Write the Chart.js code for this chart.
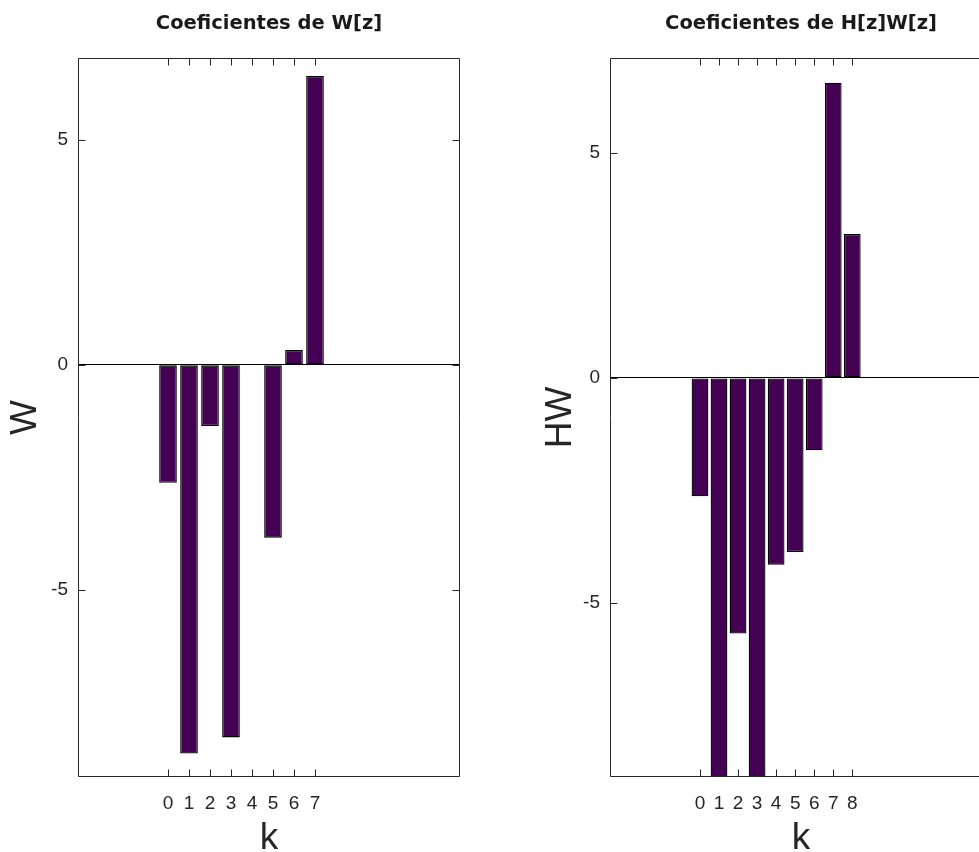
<!DOCTYPE html>
<html>
<head>
<meta charset="utf-8">
<script src="https://cdn.jsdelivr.net/npm/chart.js@4/dist/chart.umd.min.js"></script>
<style>
html,body{margin:0;padding:0;background:#fff;overflow:hidden;width:979px;height:852px;position:relative;}
#c1{position:absolute;left:0;top:0;}
#c2{position:absolute;left:490px;top:0;}
</style>
</head>
<body>
<canvas id="c1" width="490" height="852"></canvas>
<canvas id="c2" width="520" height="852"></canvas>
<script>
// ---- data ----
const kW = [0, 1, 2, 3, 4, 5, 6, 7];
const valuesW = [-2.62, -8.64, -1.36, -8.28, 0, -3.84, 0.33, 6.42];
const kHW = [0, 1, 2, 3, 4, 5, 6, 7, 8];
const valuesHW = [-2.63, -9.95, -5.68, -8.96, -4.15, -3.87, -1.61, 6.56, 3.2];
const yTicks = [-5, 0, 5];
const titleW = 'Coeficientes de W[z]';
const titleHW = 'Coeficientes de H[z]W[z]';
const yLabelW = 'W';
const yLabelHW = 'HW';
const xLabel = 'k';

const AXIS = '#262626';
const BAR = '#440154';
const FONT = "'Liberation Sans', Arial, Helvetica, sans-serif";
const TITLE_FONT = "'DejaVu Sans', 'Liberation Sans', sans-serif";

const boxPlugin = {
  id: 'boxTicks',
  afterDraw(chart) {
    const {ctx, chartArea: a} = chart;
    const x = chart.scales.x, y = chart.scales.y;
    ctx.save();
    ctx.strokeStyle = AXIS;
    ctx.lineWidth = 1;
    const L = Math.round(a.left) + 0.5, R = Math.round(a.right) - 0.5;
    const T = Math.round(a.top) + 0.5, B = Math.round(a.bottom) - 0.5;
    ctx.beginPath();
    ctx.rect(L, T, R - L, B - T);
    x.ticks.forEach(t => {
      const p = Math.round(x.getPixelForValue(t.value)) + 0.5;
      ctx.moveTo(p, B); ctx.lineTo(p, B - 7);
      ctx.moveTo(p, T); ctx.lineTo(p, T + 7);
    });
    y.ticks.forEach(t => {
      const p = Math.round(y.getPixelForValue(t.value)) + 0.5;
      ctx.moveTo(L, p); ctx.lineTo(L + 7, p);
      ctx.moveTo(R, p); ctx.lineTo(R - 7, p);
    });
    ctx.stroke();
    ctx.restore();
  }
};

function makeChart(id, ks, vals, title, yLabel, xmin, xmax, ymin, ymax, barPct, yAxisWidth, yTitlePad, padRight) {
  return new Chart(document.getElementById(id), {
    type: 'bar',
    data: {
      datasets: [{
        data: ks.map((k, i) => ({x: k, y: vals[i]})),
        backgroundColor: BAR,
        borderColor: '#000',
        borderWidth: 1.3,
        borderSkipped: false,
        categoryPercentage: 1,
        barPercentage: barPct
      }]
    },
    options: {
      responsive: false,
      animation: false,
      devicePixelRatio: 1,
      layout: {padding: {left: 0, right: padRight, top: 0, bottom: 0}},
      plugins: {
        legend: {display: false},
        tooltip: {enabled: false},
        title: {
          display: true, text: title, fullSize: false, color: '#1a1a1a',
          font: {family: TITLE_FONT, size: 19.5, weight: 'bold', lineHeight: 1.2},
          padding: {top: 12, bottom: 22.6}
        }
      },
      scales: {
        x: {
          type: 'linear', min: xmin, max: xmax, offset: false,
          grid: {display: false, drawTicks: false, offset: false},
          border: {display: false},
          afterBuildTicks: s => { s.ticks = ks.map(v => ({value: v})); },
          afterFit: s => { s.height = 75; },
          ticks: {color: AXIS, font: {family: FONT, size: 19}, padding: 15, maxRotation: 0, autoSkip: false, callback: v => String(v)},
          title: {display: true, text: xLabel, color: AXIS, font: {family: FONT, size: 37, lineHeight: 1}, padding: {top: 0, bottom: -5}}
        },
        y: {
          type: 'linear', min: ymin, max: ymax,
          grid: {drawTicks: false, lineWidth: 1, color: c => (c.tick && c.tick.value === 0) ? '#000' : 'rgba(0,0,0,0)'},
          border: {display: false},
          afterBuildTicks: s => { s.ticks = yTicks.map(v => ({value: v})); },
          afterFit: s => { s.width = yAxisWidth; },
          ticks: {color: AXIS, font: {family: FONT, size: 19}, padding: 10, callback: v => String(v)},
          title: {display: true, text: yLabel, color: AXIS, font: {family: FONT, size: 37, lineHeight: 1}, padding: {top: yTitlePad, bottom: 0}}
        }
      }
    },
    plugins: [boxPlugin]
  });
}

makeChart('c1', kW, valuesW, titleW, yLabelW, -4.286, 13.905, -9.16, 6.82, 0.84, 78, 7, 30);
makeChart('c2', kHW, valuesHW, titleHW, yLabelHW, -4.727, 15.34, -8.87, 7.11, 0.88, 120, 52, 18);
</script>
</body>
</html>
